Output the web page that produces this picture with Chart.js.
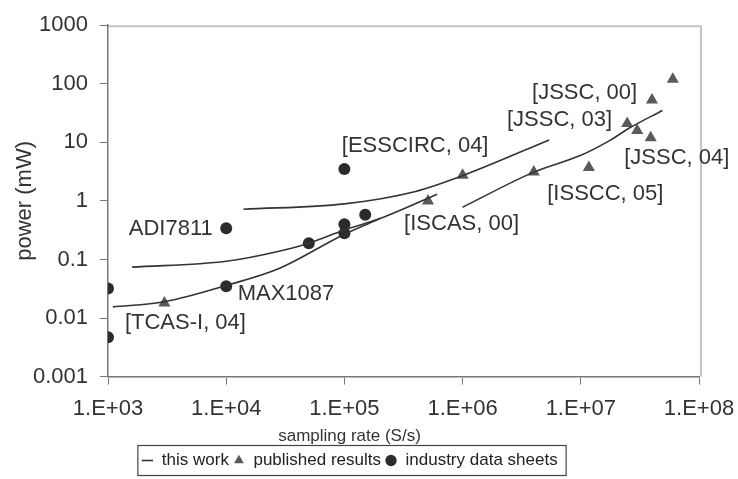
<!DOCTYPE html>
<html>
<head>
<meta charset="utf-8">
<script src="https://cdn.jsdelivr.net/npm/chart.js@4"></script>
<style>
  html, body { margin: 0; padding: 0; background: #fff; }
</style>
</head>
<body>
<canvas id="chart" width="738" height="479"></canvas>
<script>
const FONT = "'Liberation Sans', Arial, sans-serif";

const xTickValues = [1e3, 1e4, 1e5, 1e6, 1e7, 1e8];
const xTickLabels = ['1.E+03', '1.E+04', '1.E+05', '1.E+06', '1.E+07', '1.E+08'];
const yTickValues = [0.001, 0.01, 0.1, 1, 10, 100, 1000];
const yTickLabels = ['0.001', '0.01', '0.1', '1', '10', '100', '1000'];

// this work - four curves
const workARate  = [1.1e3, 3e3, 1e4, 2.8e4, 1e5, 2e5];
const workAPower = [0.0155, 0.019, 0.036, 0.07, 0.27, 0.5];
const workBRate  = [1.6e3, 1e4, 2.8e4, 5e4, 1e5, 2e5, 6.1e5];
const workBPower = [0.074, 0.093, 0.138, 0.19, 0.32, 0.5, 1.3];
const workCRate  = [1.4e4, 1e5, 4e5, 1e6, 5.4e6];
const workCPower = [0.72, 0.89, 1.45, 2.7, 11];
const workDRate  = [1e6, 4e6, 1e7, 1.75e7, 2.6e7, 4.9e7];
const workDPower = [0.78, 3.1, 6.0, 10.7, 17.7, 35];

// published results (triangles)
const pubRate  = [3e3, 5.1e5, 1e6, 4e6, 1.17e7, 2.47e7, 3e7, 3.9e7, 4e7, 6e7];
const pubPower = [0.018, 1.0, 2.75, 3.1, 3.7, 21, 16, 12, 53, 120];

// industry data sheets (circles)
const indRate  = [1e3, 1e3, 1e4, 1e4, 5e4, 1e5, 1e5, 1.5e5, 1e5];
const indPower = [0.032, 0.0047, 0.035, 0.34, 0.19, 0.4, 0.28, 0.58, 3.5];

// point labels
const noteText  = ['[ESSCIRC, 04]', 'ADI7811', 'MAX1087', '[TCAS-I, 04]', '[ISCAS, 00]',
                   '[ISSCC, 05]', '[JSSC, 04]', '[JSSC, 03]', '[JSSC, 00]'];
const noteRate  = [9.5e4, 7.7e3, 1.25e4, 1.39e3, 3.2e5, 5.2e6, 2.33e7, 1.84e7, 3.0e7];
const notePower = [8.8, 0.337, 0.026, 0.0081, 0.41, 1.31, 5.5, 24, 69];
const noteAlign = ['left', 'right', 'left', 'left', 'left', 'left', 'left', 'right', 'right'];

const pts = (xs, ys) => xs.map((x, i) => ({x: x, y: ys[i]}));

const curve = {
  showLine: true,
  borderColor: '#333',
  backgroundColor: '#333',
  borderWidth: 1.6,
  pointRadius: 0,
  pointStyle: 'line',
  cubicInterpolationMode: 'monotone'
};

// gray plot frame on top and right
const frame = {
  id: 'frame',
  beforeDraw(chart) {
    const {ctx, chartArea: a} = chart;
    ctx.save();
    ctx.strokeStyle = '#c4c4c4';
    ctx.lineWidth = 2;
    ctx.beginPath();
    ctx.moveTo(a.left, a.top + 1);
    ctx.lineTo(a.right + 2, a.top + 1);
    ctx.lineTo(a.right + 2, a.bottom);
    ctx.stroke();
    ctx.restore();
  }
};

const notes = {
  id: 'notes',
  afterDatasetsDraw(chart) {
    const {ctx, scales} = chart;
    ctx.save();
    ctx.font = '22px ' + FONT;
    ctx.fillStyle = '#333';
    ctx.textBaseline = 'middle';
    noteText.forEach((t, i) => {
      ctx.textAlign = noteAlign[i];
      ctx.fillText(t, scales.x.getPixelForValue(noteRate[i]), scales.y.getPixelForValue(notePower[i]));
    });
    ctx.restore();
  }
};

// box round the legend
const legendBox = {
  id: 'legendBox',
  afterDraw(chart) {
    const boxes = chart.legend.legendHitBoxes;
    if (!boxes.length) return;
    const left = Math.min(...boxes.map(b => b.left)) - 4;
    const right = Math.max(...boxes.map(b => b.left + b.width)) + 8;
    const mid = boxes[0].top + boxes[0].height / 2;
    const ctx = chart.ctx;
    ctx.save();
    ctx.strokeStyle = '#444';
    ctx.lineWidth = 1.2;
    ctx.strokeRect(left + 0.5, mid - 15, right - left, 30);
    ctx.restore();
  }
};

new Chart(document.getElementById('chart').getContext('2d'), {
  type: 'scatter',
  data: {
    datasets: [
      {...curve, label: 'this work', data: pts(workARate, workAPower)},
      {...curve, label: 'this work B', data: pts(workBRate, workBPower)},
      {...curve, label: 'this work C', data: pts(workCRate, workCPower)},
      {...curve, label: 'this work D', data: pts(workDRate, workDPower)},
      {
        label: 'published results',
        data: pts(pubRate, pubPower),
        pointStyle: 'triangle',
        pointRadius: 7,
        backgroundColor: '#5a5a5a',
        borderColor: '#5a5a5a',
        borderWidth: 0
      },
      {
        label: 'industry data sheets',
        data: pts(indRate, indPower),
        pointStyle: 'circle',
        pointRadius: 6,
        backgroundColor: '#2b2b2b',
        borderColor: '#2b2b2b',
        borderWidth: 0
      }
    ]
  },
  options: {
    responsive: false,
    animation: false,
    events: [],
    layout: {padding: {top: 21, right: 39, bottom: 0, left: 0}},
    scales: {
      x: {
        type: 'logarithmic',
        min: 1e3,
        max: 1e8,
        afterBuildTicks: s => { s.ticks = xTickValues.map(v => ({value: v})); },
        afterFit: s => { s.height = 44; s.paddingRight = 0; s.paddingLeft = 0; },
        ticks: {
          autoSkip: false,
          maxRotation: 0,
          padding: 11,
          color: '#333',
          font: {family: FONT, size: 22},
          callback: (v, i) => xTickLabels[i]
        },
        grid: {drawOnChartArea: false, tickLength: 8, color: '#777'},
        border: {color: '#777', width: 1.5}
      },
      y: {
        type: 'logarithmic',
        min: 0.001,
        max: 1000,
        afterBuildTicks: s => { s.ticks = yTickValues.map(v => ({value: v})); },
        afterFit: s => { s.width = 108; },
        ticks: {
          autoSkip: false,
          padding: 12,
          color: '#333',
          font: {family: FONT, size: 22},
          callback: (v, i) => yTickLabels[i]
        },
        grid: {drawOnChartArea: false, tickLength: 8, color: '#777'},
        border: {color: '#777', width: 1.5},
        title: {
          display: true,
          text: 'power (mW)',
          color: '#333',
          font: {family: FONT, size: 22},
          padding: {top: 12, bottom: 0}
        }
      }
    },
    plugins: {
      tooltip: {enabled: false},
      title: {
        display: true,
        text: 'sampling rate (S/s)',
        position: 'bottom',
        weight: 500,
        color: '#333',
        font: {family: FONT, size: 17, weight: 'normal'},
        padding: {top: 6, bottom: 1}
      },
      legend: {
        position: 'bottom',
        labels: {
          usePointStyle: true,
          boxWidth: 12,
          boxHeight: 8,
          padding: 4,
          color: '#222',
          font: {family: FONT, size: 17},
          filter: item => [0, 4, 5].includes(item.datasetIndex)
        }
      }
    }
  },
  plugins: [frame, notes, legendBox]
});
</script>
</body>
</html>
